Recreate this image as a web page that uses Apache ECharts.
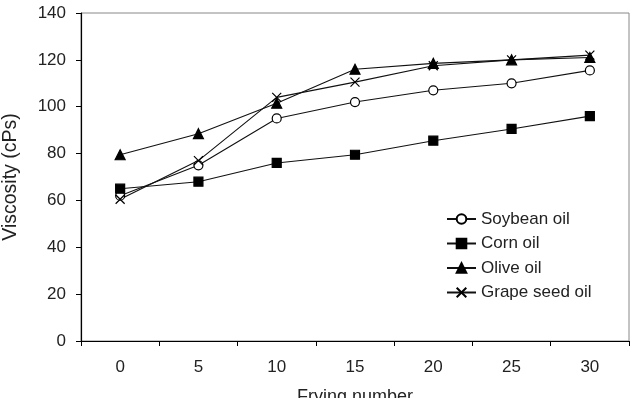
<!DOCTYPE html>
<html>
<head>
<meta charset="utf-8">
<script src="https://cdn.jsdelivr.net/npm/echarts@6/dist/echarts.min.js"></script>
<style>
  html, body { margin: 0; padding: 0; background: #fff; }
  #chart { width: 640px; height: 398px; }
</style>
</head>
<body>
<div id="chart"></div>
<script>
// frying number categories
var fryingNumber = ['0', '5', '10', '15', '20', '25', '30'];
// viscosity values (cPs)
var soybean = [62, 75, 95, 102, 107, 110, 115.5];
var corn = [65, 68, 76, 79.5, 85.5, 90.5, 96];
var olive = [79.5, 88.5, 101.5, 116, 118.5, 120, 121];
var grapeSeed = [60.5, 77, 104, 110.5, 117.5, 120, 122];

var crossPath = 'path://M0,0L10,10M10,0L0,10';
var font = 'Liberation Sans, Arial, sans-serif';

var myChart = echarts.init(document.getElementById('chart'));

function line(name, data, symbol, size, fill) {
    return {
        name: name,
        type: 'line',
        data: data,
        symbol: symbol,
        symbolSize: size,
        showAllSymbol: true,
        lineStyle: {color: '#111', width: 1.1},
        itemStyle: {color: fill, borderColor: '#000', borderWidth: 1.2},
        emphasis: {disabled: true},
        animation: false
    };
}

var option = {
    backgroundColor: '#fff',
    grid: {
        left: 81, right: 11, top: 13, bottom: 57,
        containLabel: false,
        outerBoundsMode: 'none',
        show: true, borderColor: '#888', borderWidth: 1
    },
    legend: {
        orient: 'vertical',
        left: 446,
        top: 210.5,
        padding: 0,
        itemGap: 7.5,
        itemWidth: 29,
        itemHeight: 12,
        textStyle: {fontFamily: font, fontSize: 17, color: '#222'},
        data: ['Soybean oil', 'Corn oil', 'Olive oil', 'Grape seed oil']
    },
    xAxis: {
        type: 'category',
        data: fryingNumber,
        boundaryGap: true,
        name: 'Frying number',
        nameLocation: 'middle',
        nameGap: 47,
        nameTextStyle: {fontFamily: font, fontSize: 18, color: '#222'},
        axisLine: {lineStyle: {color: '#000', width: 1.2}},
        axisTick: {show: true, inside: false, length: 5, lineStyle: {color: '#000'}},
        axisLabel: {fontFamily: font, fontSize: 17, color: '#222', margin: 18},
        splitLine: {show: false}
    },
    yAxis: {
        type: 'value',
        min: 0,
        max: 140,
        interval: 20,
        name: 'Viscosity (cPs)',
        nameLocation: 'middle',
        nameGap: 60,
        nameTextStyle: {fontFamily: font, fontSize: 19.5, color: '#222'},
        axisLine: {show: true, lineStyle: {color: '#000', width: 1.2}},
        axisTick: {show: true, inside: false, length: 5, lineStyle: {color: '#000'}},
        axisLabel: {fontFamily: font, fontSize: 17, color: '#222', margin: 15},
        splitLine: {show: false}
    },
    series: [
        line('Soybean oil', soybean, 'circle', 9, '#fff'),
        line('Corn oil', corn, 'rect', 9, '#000'),
        line('Olive oil', olive, 'triangle', 10, '#000'),
        line('Grape seed oil', grapeSeed, crossPath, 9, '#000')
    ]
};

myChart.setOption(option);
</script>
</body>
</html>
